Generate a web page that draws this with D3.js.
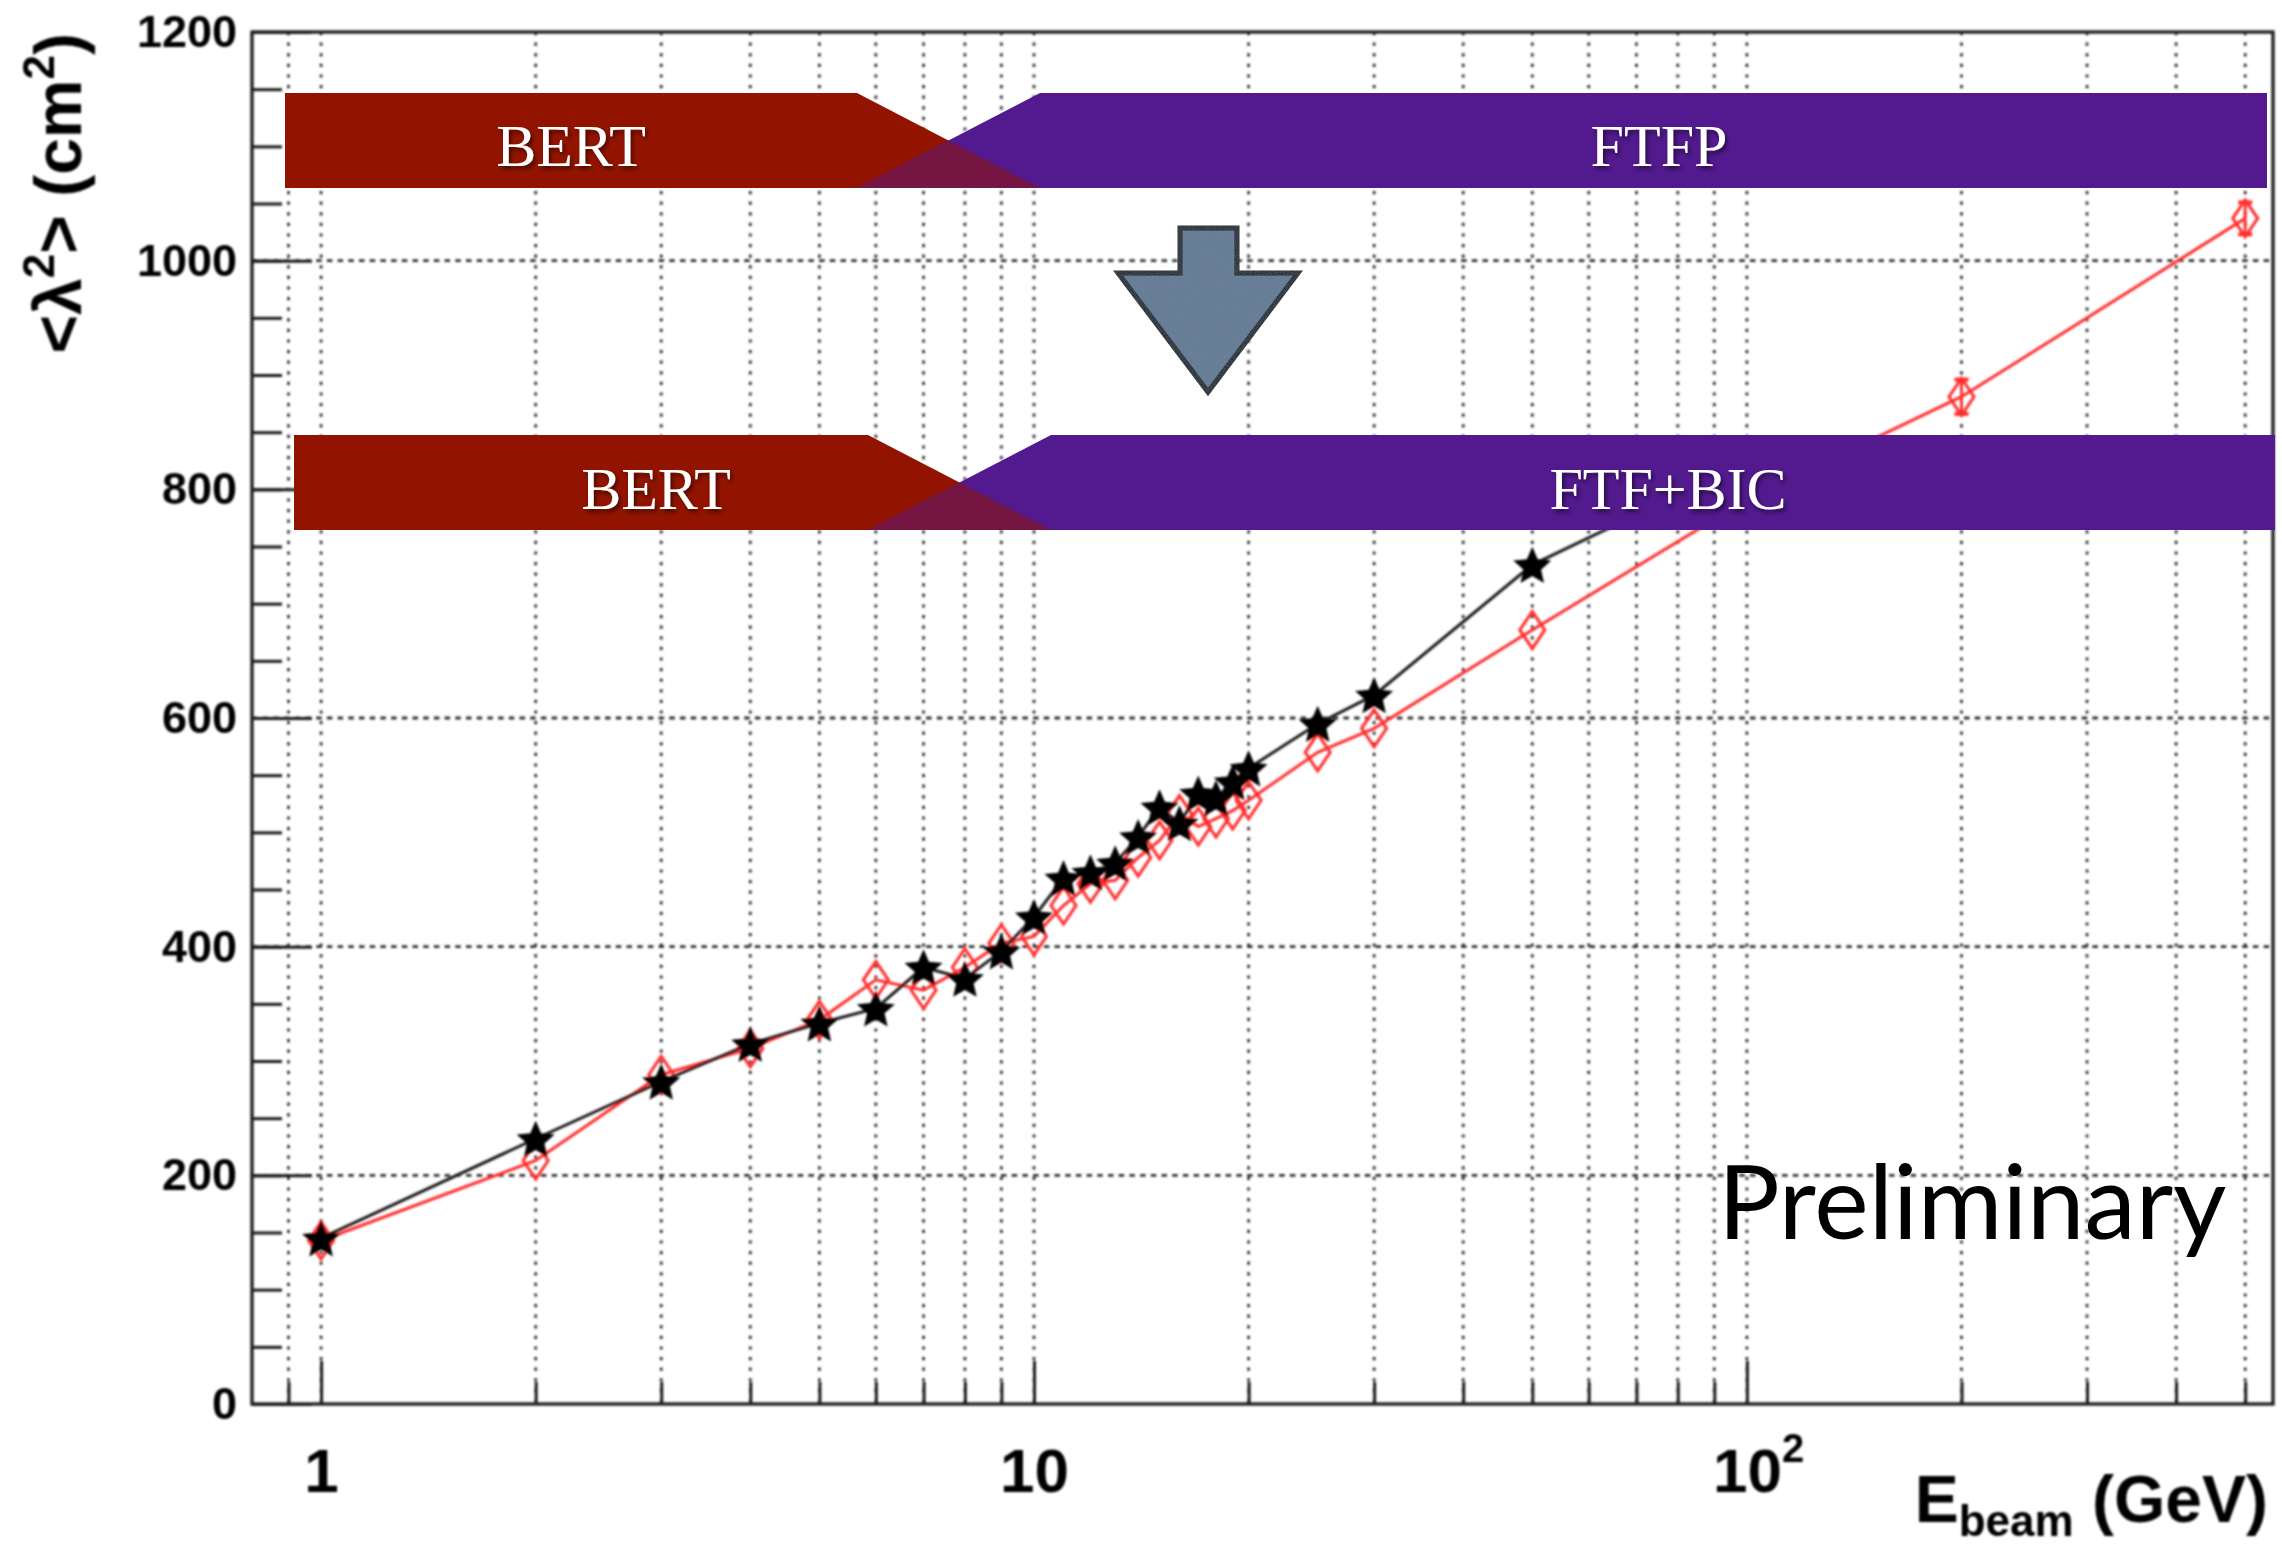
<!DOCTYPE html>
<html>
<head>
<meta charset="utf-8">
<script src="https://cdn.jsdelivr.net/npm/d3@7"></script>
<style>
  html, body { margin: 0; padding: 0; background: #ffffff; }
  svg { display: block; }
</style>
</head>
<body>
<svg id="chart" width="2282" height="1550"></svg>
<script>
// Mean squared shower radius <λ²> versus beam energy, two physics lists.
const beamEnergyStar = [1, 2, 3, 4, 5, 6, 7, 8, 9, 10, 11, 12, 13, 14, 15, 16, 17, 18, 19, 20, 25, 30, 50, 100];
const lambda2Star    = [145, 232, 282, 315, 333, 346, 382, 372, 396, 426, 460, 465, 473, 496, 522, 508, 534, 530, 544, 556, 595, 620, 734, 824];

const beamEnergyDiamond = [1, 2, 3, 4, 5, 6, 7, 8, 9, 10, 11, 12, 13, 14, 15, 16, 17, 18, 19, 20, 25, 30, 50, 100, 200, 500];
const lambda2Diamond    = [143, 213, 288, 311, 336, 371, 362, 382, 403, 409, 436, 455, 458, 478, 493, 516, 505, 512, 519, 528, 570, 591, 677, 791, 881, 1037];
const lambda2DiamondErr = [0, 0, 0, 0, 0, 0, 0, 0, 0, 0, 0, 0, 0, 0, 0, 0, 0, 0, 0, 0, 0, 0, 0, 0, 15, 14];

const yMajorTicks = [0, 200, 400, 600, 800, 1000, 1200];
const yTickLabels = ["0", "200", "400", "600", "800", "1000", "1200"];
const yGridValues = [200, 400, 600, 800, 1000];
const xMajorTicks = [1, 10, 100];
const xTickLabels = [["1", ""], ["10", ""], ["10", "2"]];
const xMinorTicks = [0.9, 2, 3, 4, 5, 6, 7, 8, 9, 20, 30, 40, 50, 60, 70, 80, 90, 200, 300, 400, 500];

const listsBefore = ["BERT", "FTFP"];
const listsAfter  = ["BERT", "FTF+BIC"];

const frame = { left: 252, right: 2273, top: 32, bottom: 1404 };

const svg = d3.select("#chart");
const defs = svg.append("defs");

defs.append("filter").attr("id", "soft")
  .attr("x", "-5%").attr("y", "-5%").attr("width", "110%").attr("height", "110%")
  .append("feGaussianBlur").attr("stdDeviation", 0.9);

const shadow = defs.append("filter").attr("id", "textShadow")
  .attr("x", "-10%").attr("y", "-20%").attr("width", "130%").attr("height", "150%");
shadow.append("feDropShadow").attr("dx", 2).attr("dy", 3).attr("stdDeviation", 2.2)
  .attr("flood-color", "#000").attr("flood-opacity", 0.55);

const grain = defs.append("filter").attr("id", "grain");
grain.append("feTurbulence").attr("type", "fractalNoise").attr("baseFrequency", 0.9)
  .attr("numOctaves", 2).attr("seed", 3).attr("result", "noise");
grain.append("feColorMatrix").attr("in", "noise").attr("type", "matrix")
  .attr("values", "0 0 0 0 0.35  0 0 0 0 0.45  0 0 0 0 0.55  0 0 0 0.22 0").attr("result", "tint");
grain.append("feComposite").attr("in", "tint").attr("in2", "SourceGraphic").attr("operator", "in").attr("result", "tintIn");
grain.append("feMerge").call(m => {
  m.append("feMergeNode").attr("in", "SourceGraphic");
  m.append("feMergeNode").attr("in", "tintIn");
});

const x = d3.scaleLog().domain([0.8, 547]).range([frame.left, frame.right]);
const y = d3.scaleLinear().domain([0, 1200]).range([frame.bottom, frame.top]);

const plot = svg.append("g").attr("filter", "url(#soft)");

// dotted grid
const grid = plot.append("g");
grid.selectAll("line.vgrid").data(xMinorTicks.concat(xMajorTicks)).join("line")
  .attr("class", "vgrid")
  .attr("x1", d => x(d)).attr("x2", d => x(d))
  .attr("y1", frame.top).attr("y2", frame.bottom)
  .attr("stroke", "#333").attr("stroke-width", 2.8)
  .attr("stroke-dasharray", "3.2 7.4");
grid.selectAll("line.hgrid").data(yGridValues).join("line")
  .attr("class", "hgrid")
  .attr("x1", frame.left).attr("x2", frame.right)
  .attr("y1", d => y(d)).attr("y2", d => y(d))
  .attr("stroke", "#333").attr("stroke-width", 2.8)
  .attr("stroke-dasharray", "5.5 5.2");

// frame
plot.append("rect")
  .attr("x", frame.left).attr("y", frame.top)
  .attr("width", frame.right - frame.left).attr("height", frame.bottom - frame.top)
  .attr("fill", "none").attr("stroke", "#1a1a1a").attr("stroke-width", 3.2);

const tickFont = "'Liberation Sans', Arial, Helvetica, sans-serif";

// y axis
const gyMinor = plot.append("g").attr("transform", `translate(${frame.left},0)`)
  .call(d3.axisLeft(y).tickValues(d3.range(0, 1201, 50)).tickSize(-30).tickSizeOuter(0).tickFormat(""));
const gyMajor = plot.append("g").attr("transform", `translate(${frame.left},0)`)
  .call(d3.axisLeft(y).tickValues(yMajorTicks).tickSize(-60).tickSizeOuter(0).tickPadding(15)
    .tickFormat((d, i) => yTickLabels[i]));

// x axis
const gxMinor = plot.append("g").attr("transform", `translate(0,${frame.bottom})`)
  .call(d3.axisBottom(x).tickValues(xMinorTicks).tickSize(-22).tickSizeOuter(0).tickFormat(""));
const gxMajor = plot.append("g").attr("transform", `translate(0,${frame.bottom})`)
  .call(d3.axisBottom(x).tickValues(xMajorTicks).tickSize(-43).tickSizeOuter(0).tickPadding(44)
    .tickFormat(() => ""));

[gyMinor, gyMajor, gxMinor, gxMajor].forEach(g => {
  g.select(".domain").remove();
  g.selectAll(".tick line").attr("stroke", "#1a1a1a").attr("stroke-width", 3);
});
gyMajor.selectAll(".tick text")
  .attr("font-family", tickFont).attr("font-weight", "bold").attr("font-size", 45).attr("fill", "#000");

gxMajor.selectAll(".tick text").each(function(d, i) {
  const t = d3.select(this)
    .attr("font-family", tickFont).attr("font-weight", "bold").attr("font-size", 62).attr("fill", "#000");
  const [base, sup] = xTickLabels[i];
  t.text(null);
  t.append("tspan").text(base);
  if (sup) {
    t.append("tspan").attr("font-size", 40).attr("dy", "-0.75em").text(sup);
    t.attr("dx", "0.18em");
  }
});

// axis titles
const xTitle = plot.append("text")
  .attr("x", 2268).attr("y", 1522)
  .attr("text-anchor", "end")
  .attr("font-family", tickFont).attr("font-weight", "bold").attr("font-size", 66).attr("fill", "#000");
xTitle.append("tspan").text("E");
xTitle.append("tspan").attr("font-size", 44).attr("dy", 14).text("beam");
xTitle.append("tspan").attr("dy", -14).text(" (GeV)");

const yTitle = plot.append("text")
  .attr("transform", "translate(81,33) rotate(-90)")
  .attr("text-anchor", "end")
  .attr("font-family", tickFont).attr("font-weight", "bold").attr("font-size", 66).attr("fill", "#000");
yTitle.append("tspan").text("<λ");
yTitle.append("tspan").attr("font-size", 44).attr("dy", "-0.62em").text("2");
yTitle.append("tspan").attr("dy", "0.41em").text("> (cm");
yTitle.append("tspan").attr("font-size", 44).attr("dy", "-0.62em").text("2");
yTitle.append("tspan").attr("dy", "0.41em").text(")");

// series
const line = d3.line().x(d => x(d[0])).y(d => y(d[1]));
const diamondPts = beamEnergyDiamond.map((e, i) => [e, lambda2Diamond[i], lambda2DiamondErr[i]]);
const starPts = beamEnergyStar.map((e, i) => [e, lambda2Star[i]]);

const red = "#ff2e2e";
plot.append("path").datum(diamondPts).attr("d", line)
  .attr("fill", "none").attr("stroke", red).attr("stroke-width", 3);

const dHalfW = 12.5, dHalfH = 18.5;
const errG = plot.append("g").selectAll("g").data(diamondPts.filter(d => d[2] > 0)).join("g");
errG.append("line")
  .attr("x1", d => x(d[0])).attr("x2", d => x(d[0]))
  .attr("y1", d => y(d[1] + d[2])).attr("y2", d => y(d[1] - d[2]))
  .attr("stroke", red).attr("stroke-width", 3);
errG.selectAll("line.cap").data(d => [[d[0], d[1] + d[2]], [d[0], d[1] - d[2]]]).join("line")
  .attr("class", "cap")
  .attr("x1", d => x(d[0]) - 7).attr("x2", d => x(d[0]) + 7)
  .attr("y1", d => y(d[1])).attr("y2", d => y(d[1]))
  .attr("stroke", red).attr("stroke-width", 4);

plot.append("g").selectAll("path").data(diamondPts).join("path")
  .attr("transform", d => `translate(${x(d[0])},${y(d[1])})`)
  .attr("d", `M0,${-dHalfH}L${dHalfW},0L0,${dHalfH}L${-dHalfW},0Z`)
  .attr("fill", "none").attr("stroke", red).attr("stroke-width", 3);

// filled five-point star marker
function starPath(outer, inner) {
  const pts = d3.range(10).map(k => {
    const r = k % 2 === 0 ? outer : inner;
    const a = -Math.PI / 2 + k * Math.PI / 5;
    return [r * Math.cos(a), r * Math.sin(a)];
  });
  return "M" + pts.map(p => p[0].toFixed(2) + "," + p[1].toFixed(2)).join("L") + "Z";
}

plot.append("path").datum(starPts).attr("d", line)
  .attr("fill", "none").attr("stroke", "#1e1e1e").attr("stroke-width", 3);
plot.append("g").selectAll("path").data(starPts).join("path")
  .attr("transform", d => `translate(${x(d[0])},${y(d[1]) + 2})`)
  .attr("d", starPath(20, 9.2))
  .attr("fill", "#000");

// physics-list banners
const bannerRed = "#921400", bannerPurple = "#521a8e", bannerMix = "#741542";
function banner(top, bottom, left, right, cutA, cutB, labels, labelX, baseline) {
  const g = svg.append("g");
  const midY = top + (bottom - top) / 2, midX = (cutA + cutB) / 2;
  g.append("path").attr("d", `M${left},${top}H${cutA}L${cutB},${bottom}H${left}Z`).attr("fill", bannerRed);
  g.append("path").attr("d", `M${cutB},${top}H${right}V${bottom}H${cutA}Z`).attr("fill", bannerPurple);
  g.append("path").attr("d", `M${cutA},${bottom}L${midX},${midY}L${cutB},${bottom}Z`).attr("fill", bannerMix);
  g.selectAll("text").data(labels).join("text")
    .attr("x", (d, i) => labelX[i]).attr("y", baseline)
    .attr("text-anchor", "middle")
    .attr("font-family", "'Liberation Serif', 'Times New Roman', serif")
    .attr("font-size", 60).attr("fill", "#ffffff")
    .attr("filter", "url(#textShadow)")
    .text(d => d);
}
banner(93, 188, 285, 2267, 857, 1040, listsBefore, [571, 1659], 166);
banner(435, 530, 294, 2275, 868, 1051, listsAfter, [656, 1668], 509);

// down arrow between the two banners
svg.append("path")
  .attr("d", "M1180,228H1237V273H1298L1208,392L1118,273H1180Z")
  .attr("fill", "#5f7691").attr("stroke", "#000").attr("stroke-width", 5)
  .attr("stroke-linejoin", "miter").attr("filter", "url(#grain)");

svg.append("text")
  .attr("x", 1718).attr("y", 1239)
  .attr("font-family", "Lato, 'Open Sans', sans-serif")
  .attr("font-size", 103).attr("fill", "#000")
  .text("Preliminary");
</script>
</body>
</html>
